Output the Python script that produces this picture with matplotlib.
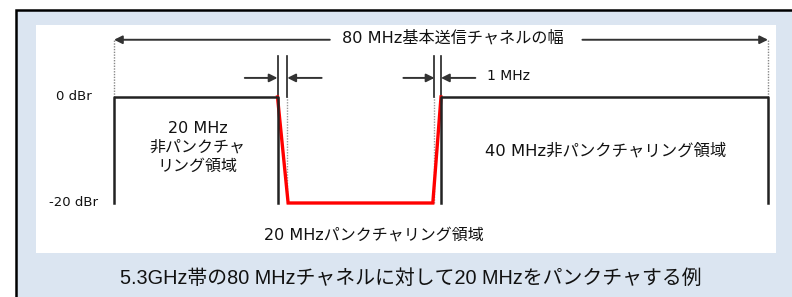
import matplotlib.pyplot as plt
from matplotlib.patches import Rectangle

plt.rcParams['font.family'] = ['Noto Sans CJK JP', 'DejaVu Sans']
diag_font = ['DejaVu Sans', 'Noto Sans CJK JP']
cap_font = ['Liberation Sans', 'Noto Sans CJK JP']

# spectrum mask (MHz, dBr)
black_f = [0, 0, 20, 20]
black_p = [-20, 0, 0, -20]
punct_f = [20, 21.3, 39, 40]
punct_p = [0, -20, -20, 0]
right_f = [40, 40, 80, 80]
right_p = [-20, 0, 0, -20]

guard_edges = [20, 21.2, 39.2, 40]   # 1 MHz marker lines
level_labels = ['0 dBr', '-20 dBr']
level_values = [0, -20]

title_top = '80 MHz基本送信チャネルの幅'
caption = '5.3GHz帯の80 MHzチャネルに対して20 MHzをパンクチャする例'

W, H = 792, 297
fig = plt.figure(figsize=(W / 100, H / 100), dpi=100)

# background frame in pixel coordinates
bg = fig.add_axes([0, 0, 1, 1])
bg.set_xlim(0, W)
bg.set_ylim(H, 0)
bg.axis('off')
bg.add_patch(Rectangle((16, 10), W, H, facecolor='#dbe5f1', edgecolor='black', lw=1.8))
bg.add_patch(Rectangle((36, 25), 740, 228, facecolor='white', edgecolor='none'))
bg.text(411, 278, caption, ha='center', va='center', fontsize=14.3,
        family=cap_font, color='#111111')

# data axes: 0 MHz -> px 114, 80 MHz -> px 768 ; 0 dBr -> px 97, -20 dBr -> px 203
sx = (768 - 114) / 80
sy = (203 - 97) / 20
ax = fig.add_axes([0, 0, 1, 1])
ax.set_xlim(-114 / sx, (W - 114) / sx)
ax.set_ylim(-(H - 97) / sy, 97 / sy)
ax.axis('off')
ax.patch.set_alpha(0)

ax.plot(punct_f, punct_p, color='#ff0000', lw=2.4, solid_joinstyle='miter', zorder=3)
ax.plot(black_f, black_p, color='#222222', lw=1.8, zorder=4)
ax.plot(right_f, right_p, color='#222222', lw=1.8, zorder=4)

# dotted guides
ax.plot([0, 0], [0, 10.8], color='#888888', lw=1, ls=(0, (1, 1)))
ax.plot([80, 80], [0, 10.8], color='#888888', lw=1, ls=(0, (1, 1)))
ax.plot([guard_edges[1]] * 2, [-20, 0], color='#999999', lw=1, ls=(0, (1, 1)))
ax.plot([guard_edges[2]] * 2, [-20, 0], color='#999999', lw=1, ls=(0, (1, 1)))

# 1 MHz marker lines
for f in guard_edges:
    ax.plot([f, f], [0, 7.8], color='#222222', lw=1.2)

arrow = dict(arrowstyle='-|>', color='#333333', lw=1.4, mutation_scale=12,
             shrinkA=0, shrinkB=0)
y_small = 3.6
ax.annotate('', xy=(20, y_small), xytext=(16, y_small), arrowprops=arrow)
ax.annotate('', xy=(21.2, y_small), xytext=(25.4, y_small), arrowprops=arrow)
ax.annotate('', xy=(39.2, y_small), xytext=(35.4, y_small), arrowprops=arrow)
ax.annotate('', xy=(40, y_small), xytext=(44.2, y_small), arrowprops=arrow)
ax.text(45.6, y_small + 0.3, '1 MHz', ha='left', va='center', fontsize=10,
        family=diag_font, color='#111111')

# top 80 MHz arrow
y_top = 10.8
ax.annotate('', xy=(0, y_top), xytext=(26.4, y_top), arrowprops=arrow)
ax.annotate('', xy=(80, y_top), xytext=(57.3, y_top), arrowprops=arrow)
ax.text(41.4, y_top + 0.3, title_top, ha='center', va='center', fontsize=11.6,
        family=diag_font, color='#111111')

# level labels
ax.text(-4.9, level_values[0], level_labels[0], ha='center', va='center', fontsize=9.5,
        family=diag_font, color='#111111')
ax.text(-4.9, level_values[1], level_labels[1], ha='center', va='center', fontsize=9.5,
        family=diag_font, color='#111111')

# region labels
ax.text(10.2, -9.5, '20 MHz\n非パンクチャ\nリング領域', ha='center', va='center',
        fontsize=11.5, linespacing=1.3, family=diag_font, color='#111111')
ax.text(60.1, -10.2, '40 MHz非パンクチャリング領域', ha='center', va='center',
        fontsize=11.8, family=diag_font, color='#111111')
ax.text(31.8, -26.0, '20 MHzパンクチャリング領域', ha='center', va='center',
        fontsize=11.5, family=diag_font, color='#111111')

fig.savefig('out.png', dpi=100)
